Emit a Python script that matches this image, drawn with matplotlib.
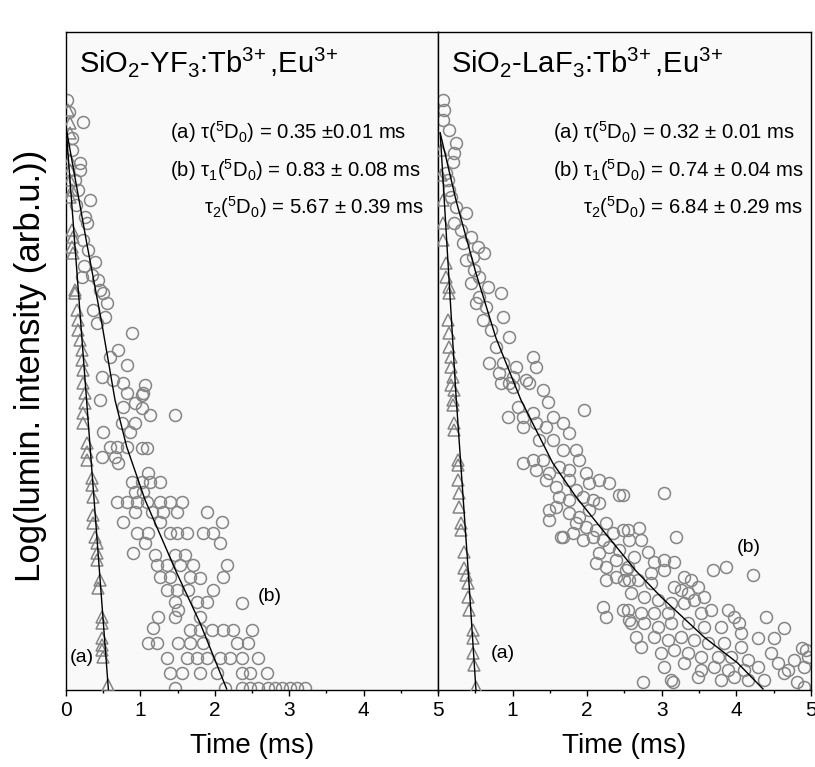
import matplotlib
matplotlib.use("Agg")
import matplotlib.pyplot as plt
from matplotlib.ticker import MultipleLocator

plt.rcParams['font.family'] = ['Liberation Sans', 'DejaVu Sans']
plt.rcParams['mathtext.fontset'] = 'custom'
plt.rcParams['mathtext.rm'] = 'Liberation Sans'
plt.rcParams['mathtext.it'] = 'Liberation Sans:italic'

# y values are log10 of the luminescence intensity (arbitrary offset)

# ---- SiO2-YF3:Tb,Eu ----
yf_a_t = [0.027, 0.054, 0.054, 0.054, 0.054, 0.054, 0.077, 0.054, 0.077, 0.094, 0.077, 0.094,
          0.121, 0.121, 0.144, 0.161, 0.161, 0.188, 0.211, 0.211, 0.233, 0.233, 0.255, 0.255,
          0.233, 0.233, 0.278, 0.278, 0.278, 0.345, 0.345, 0.363, 0.363, 0.363, 0.390, 0.413,
          0.413, 0.413, 0.457, 0.430, 0.480, 0.480, 0.480, 0.480, 0.480, 0.497, 0.565]
yf_a_y = [1.763, 1.723, 1.693, 1.611, 1.581, 1.550, 1.520, 1.498, 1.398, 1.377, 1.347, 1.328,
          1.216, 1.207, 1.155, 1.125, 1.094, 1.064, 1.033, 1.003, 0.973, 0.933, 0.903, 0.872,
          0.842, 0.812, 0.751, 0.723, 0.699, 0.644, 0.623, 0.587, 0.532, 0.508, 0.465, 0.447,
          0.416, 0.395, 0.334, 0.310, 0.222, 0.204, 0.158, 0.137, 0.122, 0.100, 0.015]

yf_b_t = [0.013, 0.040, 0.233, 0.077, 0.081, 0.188, 0.188, 0.121, 0.165, 0.323, 0.134, 0.255,
          0.278, 0.233, 0.296, 0.390, 0.242, 0.349, 0.211, 0.430, 0.457, 0.497, 0.547, 0.363,
          0.524, 0.413, 0.883, 0.699, 0.591, 0.816, 0.480, 0.632, 0.766, 1.062, 0.816, 1.017,
          1.035, 0.457, 0.927, 0.766, 1.017, 1.129, 1.465, 0.749, 0.927, 0.497, 0.860, 0.591,
          0.681, 0.816, 1.017, 1.085, 0.480, 0.659, 0.699, 1.102, 0.883, 1.017, 1.129, 1.263,
          0.927, 1.035, 0.681, 0.816, 0.950, 1.085, 1.263, 1.398, 1.555, 0.927, 1.152, 1.304,
          1.488, 1.891, 0.766, 1.263, 2.093, 0.950, 1.102, 1.398, 1.488, 1.622, 1.841, 1.976,
          1.062, 2.070, 0.901, 1.196, 1.465, 1.599, 1.219, 1.353, 1.532, 1.707, 2.160, 1.263,
          1.398, 1.667, 1.801, 2.110, 1.353, 1.488, 1.640, 1.976, 1.465, 1.757, 1.891, 2.362,
          1.505, 1.237, 1.465, 1.801, 1.169, 1.667, 1.801, 1.958, 2.110, 2.245, 2.496, 1.102,
          1.219, 1.505, 1.667, 1.841, 2.294, 2.446, 1.353, 1.622, 1.757, 1.891, 2.070, 2.204,
          2.362, 2.581, 1.398, 1.555, 1.801, 2.026, 2.362, 2.473, 2.698, 1.465, 2.137, 2.362,
          2.473, 2.581, 2.715, 2.809, 2.899, 3.011, 3.101, 3.212]
yf_b_y = [1.793, 1.757, 1.727, 1.678, 1.641, 1.602, 1.581, 1.550, 1.520, 1.489, 1.474, 1.439,
          1.419, 1.368, 1.337, 1.302, 1.290, 1.261, 1.256, 1.246, 1.216, 1.207, 1.176, 1.155,
          1.134, 1.116, 1.085, 1.033, 1.012, 0.988, 0.951, 0.942, 0.933, 0.927, 0.903, 0.897,
          0.903, 0.881, 0.872, 0.860, 0.857, 0.836, 0.836, 0.812, 0.812, 0.784, 0.784, 0.739,
          0.739, 0.739, 0.736, 0.736, 0.708, 0.708, 0.690, 0.660, 0.632, 0.632, 0.632, 0.632,
          0.602, 0.602, 0.571, 0.571, 0.571, 0.571, 0.571, 0.571, 0.571, 0.541, 0.541, 0.541,
          0.541, 0.541, 0.511, 0.511, 0.511, 0.477, 0.477, 0.477, 0.477, 0.477, 0.477, 0.477,
          0.447, 0.447, 0.416, 0.410, 0.410, 0.410, 0.380, 0.380, 0.380, 0.380, 0.380, 0.343,
          0.343, 0.343, 0.340, 0.343, 0.304, 0.304, 0.304, 0.304, 0.267, 0.267, 0.267, 0.264,
          0.243, 0.222, 0.222, 0.222, 0.188, 0.182, 0.182, 0.182, 0.182, 0.182, 0.182, 0.143,
          0.143, 0.143, 0.143, 0.143, 0.143, 0.143, 0.097, 0.097, 0.097, 0.097, 0.097, 0.097,
          0.097, 0.097, 0.052, 0.052, 0.052, 0.052, 0.052, 0.052, 0.052, 0.005, 0.005, 0.005,
          0.005, 0.005, 0.005, 0.005, 0.005, 0.005, 0.005, 0.005]

yf_fit_a_t = [0.0, 0.57]
yf_fit_a_y = [1.71, 0.0]
yf_fit_b_t = [0.0, 0.278, 0.480, 0.659, 0.816, 1.062, 1.488, 1.801, 2.160]
yf_fit_b_y = [1.71, 1.359, 1.116, 0.881, 0.739, 0.578, 0.356, 0.204, 0.003]

# ---- SiO2-LaF3:Tb,Eu ----
la_a_t = [0.040, 0.040, 0.063, 0.063, 0.063, 0.107, 0.107, 0.147, 0.147, 0.130, 0.147, 0.147,
          0.174, 0.174, 0.197, 0.214, 0.174, 0.197, 0.197, 0.214, 0.214, 0.264, 0.264, 0.264,
          0.282, 0.282, 0.308, 0.308, 0.349, 0.349, 0.375, 0.398, 0.398, 0.416, 0.465, 0.465,
          0.465, 0.483, 0.509]
la_a_y = [1.641, 1.565, 1.489, 1.419, 1.368, 1.298, 1.255, 1.225, 1.207, 1.125, 1.085, 1.043,
          1.012, 0.982, 0.951, 0.912, 0.927, 0.881, 0.866, 0.812, 0.790, 0.699, 0.684, 0.638,
          0.599, 0.556, 0.508, 0.486, 0.419, 0.371, 0.350, 0.325, 0.283, 0.243, 0.182, 0.158,
          0.112, 0.076, 0.009]

la_b_t = [0.063, 0.080, 0.063, 0.147, 0.241, 0.214, 0.197, 0.107, 0.130, 0.147, 0.174, 0.375,
          0.241, 0.214, 0.308, 0.442, 0.331, 0.532, 0.617, 0.375, 0.465, 0.483, 0.550, 0.442,
          0.666, 0.845, 0.550, 0.509, 0.643, 0.867, 0.599, 0.710, 0.952, 0.777, 0.684, 0.867,
          1.046, 1.269, 1.314, 0.818, 1.001, 1.180, 1.403, 0.952,
          0.845, 1.001, 1.220, 1.471, 1.957, 1.068, 0.934, 1.135, 1.135, 1.269, 1.314, 1.448,
          1.538, 1.672, 1.756, 1.354, 1.538, 1.672, 1.850, 1.890, 1.135, 1.269, 1.403, 1.314,
          1.488, 1.622, 1.756, 1.984, 1.448, 1.582, 1.756, 1.850, 2.024, 2.158, 2.292, 2.426,
          1.622, 1.756, 1.940, 2.074, 2.158, 1.488, 1.582, 1.756, 1.890, 2.024, 1.488, 1.850,
          1.984, 2.118, 2.252, 2.342, 1.672, 1.806, 1.940, 2.074, 2.208, 2.476, 2.158, 2.292,
          2.426, 2.560, 2.118, 2.252, 2.386, 2.520, 2.252, 2.386, 2.560, 2.208, 2.252, 2.476,
          2.560, 2.654,
          2.476, 3.029, 3.190, 2.543, 2.694, 2.721, 2.811, 2.627, 2.543, 2.895, 3.029, 3.164,
          2.855, 3.029, 2.493, 2.677, 2.855, 3.298, 3.391, 3.481, 3.566, 3.257, 3.347, 3.432,
          3.164, 2.587, 2.761, 2.945, 3.123, 3.298, 3.660, 2.543, 2.721, 2.895, 3.079, 3.525,
          3.883, 3.968, 4.035, 3.682, 3.861, 4.218, 4.397, 4.638, 4.286, 4.504, 4.879, 2.587,
          2.761, 2.945, 3.123, 3.347, 3.566, 3.794, 4.062, 2.721, 2.895, 3.079, 3.257, 3.432,
          3.615, 3.834, 4.062, 2.989, 3.164, 3.347, 3.525, 3.750, 3.928, 4.151, 3.029, 3.298,
          3.525, 3.700, 3.883, 4.102, 4.286, 4.464, 4.554, 4.688, 4.772, 4.906, 4.956, 3.123,
          2.744, 3.481, 3.794, 3.968, 4.151, 4.370, 4.638, 4.812, 4.906, 1.649, 3.146, 4.933]
la_b_y = [1.793, 1.763, 1.733, 1.702, 1.663, 1.632, 1.605, 1.571, 1.550, 1.520, 1.498, 1.450,
          1.468, 1.419, 1.398, 1.377, 1.359, 1.347, 1.328, 1.307, 1.316, 1.277, 1.255, 1.237,
          1.225, 1.207, 1.195, 1.176, 1.164, 1.134, 1.125, 1.094, 1.073, 1.043, 0.994, 0.994,
          0.982, 1.012, 0.982, 0.964, 0.951, 0.942, 0.912, 0.933,
          0.933, 0.921, 0.933, 0.875, 0.851, 0.860, 0.830, 0.830, 0.799, 0.842, 0.812, 0.799,
          0.830, 0.812, 0.781, 0.760, 0.760, 0.729, 0.729, 0.699, 0.690, 0.699, 0.699, 0.669,
          0.660, 0.678, 0.669, 0.660, 0.638, 0.617, 0.638, 0.608, 0.629, 0.638, 0.629, 0.593,
          0.587, 0.578, 0.587, 0.578, 0.568, 0.547, 0.556, 0.538, 0.526, 0.547, 0.517, 0.508,
          0.495, 0.486, 0.508, 0.477, 0.465, 0.477, 0.456, 0.465, 0.456, 0.486, 0.416, 0.435,
          0.426, 0.456, 0.386, 0.374, 0.395, 0.365, 0.334, 0.343, 0.334, 0.252, 0.222, 0.243,
          0.213, 0.161,
          0.593, 0.599, 0.465, 0.486, 0.492, 0.456, 0.419, 0.404, 0.374, 0.389, 0.395, 0.389,
          0.356, 0.365, 0.334, 0.334, 0.325, 0.343, 0.334, 0.313, 0.283, 0.304, 0.295, 0.274,
          0.313, 0.295, 0.283, 0.274, 0.264, 0.264, 0.243, 0.243, 0.234, 0.234, 0.234, 0.234,
          0.243, 0.222, 0.204, 0.365, 0.374, 0.350, 0.222, 0.188, 0.158, 0.158, 0.128, 0.204,
          0.204, 0.191, 0.204, 0.204, 0.191, 0.191, 0.173, 0.131, 0.161, 0.152, 0.161, 0.152,
          0.143, 0.143, 0.131, 0.112, 0.122, 0.112, 0.100, 0.100, 0.100, 0.091, 0.070, 0.082,
          0.061, 0.070, 0.061, 0.061, 0.070, 0.112, 0.082, 0.061, 0.091, 0.070, 0.100, 0.030,
          0.024, 0.040, 0.030, 0.040, 0.030, 0.030, 0.052, 0.024, 0.009, 0.465, 0.024, 0.122]

la_fit_a_t = [0.03, 0.241, 0.398, 0.509]
la_fit_a_y = [1.693, 0.897, 0.386, 0.0]
la_fit_b_t = [0.03, 0.241, 0.509, 0.777, 1.113, 1.538, 1.850, 2.208, 2.654, 2.989, 3.566,
              4.017, 4.357]
la_fit_b_y = [1.693, 1.489, 1.267, 1.070, 0.881, 0.690, 0.587, 0.486, 0.362, 0.283, 0.161,
              0.082, 0.003]

titles = [r'SiO$_2$-YF$_3$:Tb$^{3\!+}$,Eu$^{3\!+}$', r'SiO$_2$-LaF$_3$:Tb$^{3\!+}$,Eu$^{3\!+}$']
notes = [['(a) τ($^5$D$_0$) = 0.35 ±0.01 ms', '(b) τ$_1$($^5$D$_0$) = 0.83 ± 0.08 ms',
          'τ$_2$($^5$D$_0$) = 5.67 ± 0.39 ms'],
         ['(a) τ($^5$D$_0$) = 0.32 ± 0.01 ms', '(b) τ$_1$($^5$D$_0$) = 0.74 ± 0.04 ms',
          'τ$_2$($^5$D$_0$) = 6.84 ± 0.29 ms']]

gray = '#858585'

fig = plt.figure(figsize=(8.15, 7.67), dpi=100)
ax1 = fig.add_axes([0.0810, 0.1004, 0.4564, 0.8579])
ax2 = fig.add_axes([0.5374, 0.1004, 0.4577, 0.8579])

panels = [
    (ax1, yf_a_t, yf_a_y, yf_b_t, yf_b_y, yf_fit_a_t, yf_fit_a_y, yf_fit_b_t, yf_fit_b_y),
    (ax2, la_a_t, la_a_y, la_b_t, la_b_y, la_fit_a_t, la_fit_a_y, la_fit_b_t, la_fit_b_y),
]

for i, (ax, at, ay, bt, by, fat, fay, fbt, fby) in enumerate(panels):
    ax.set_facecolor('#f9f9f9')
    ax.plot(bt, by, 'o', mfc='none', mec=gray, ms=8.6, mew=1.1, zorder=2)
    ax.plot(at, ay, '^', mfc='none', mec=gray, ms=8.6, mew=1.1, zorder=3)
    ax.plot(fat, fay, color='black', lw=1.0, zorder=4)
    ax.plot(fbt, fby, color='black', lw=1.0, zorder=4)
    ax.set_xlim(0, 5)
    ax.set_ylim(0, 2.0)
    ax.set_yticks([])
    ax.xaxis.set_major_locator(MultipleLocator(1))
    ax.xaxis.set_minor_locator(MultipleLocator(0.5))
    ax.tick_params(axis='x', which='major', direction='out', length=4, width=1.0,
                   labelsize=15, pad=4)
    ax.tick_params(axis='x', which='minor', direction='out', length=2.5, width=1.0)
    for s in ax.spines.values():
        s.set_linewidth(1.0)
    ax.set_xlabel('Time (ms)', fontsize=20, labelpad=9)
    ax.text(0.035, 0.955, titles[i], transform=ax.transAxes, fontsize=21,
            ha='left', va='center')

# curve labels and lifetimes
ax1.text(0.21, 0.100, '(a)', fontsize=14, ha='center', va='center')
ax1.text(2.74, 0.283, '(b)', fontsize=14, ha='center', va='center')
ax2.text(0.87, 0.112, '(a)', fontsize=14, ha='center', va='center')
ax2.text(4.17, 0.432, '(b)', fontsize=14, ha='center', va='center')

for ax, x0, x1, n in [(ax1, 0.280, 0.962, notes[0]), (ax2, 0.308, 0.979, notes[1])]:
    ax.text(x0, 0.848, n[0], transform=ax.transAxes, fontsize=14.6, ha='left', va='center')
    ax.text(x0, 0.790, n[1], transform=ax.transAxes, fontsize=14.6, ha='left', va='center')
    ax.text(x1, 0.734, n[2], transform=ax.transAxes, fontsize=14.6, ha='right', va='center')

ax2.set_xticks([1, 2, 3, 4, 5])

fig.text(0.038, 0.523, 'Log(lumin. intensity (arb.u.))', rotation=90, fontsize=25,
         ha='center', va='center')

fig.savefig('out.png', dpi=100, facecolor='white')
